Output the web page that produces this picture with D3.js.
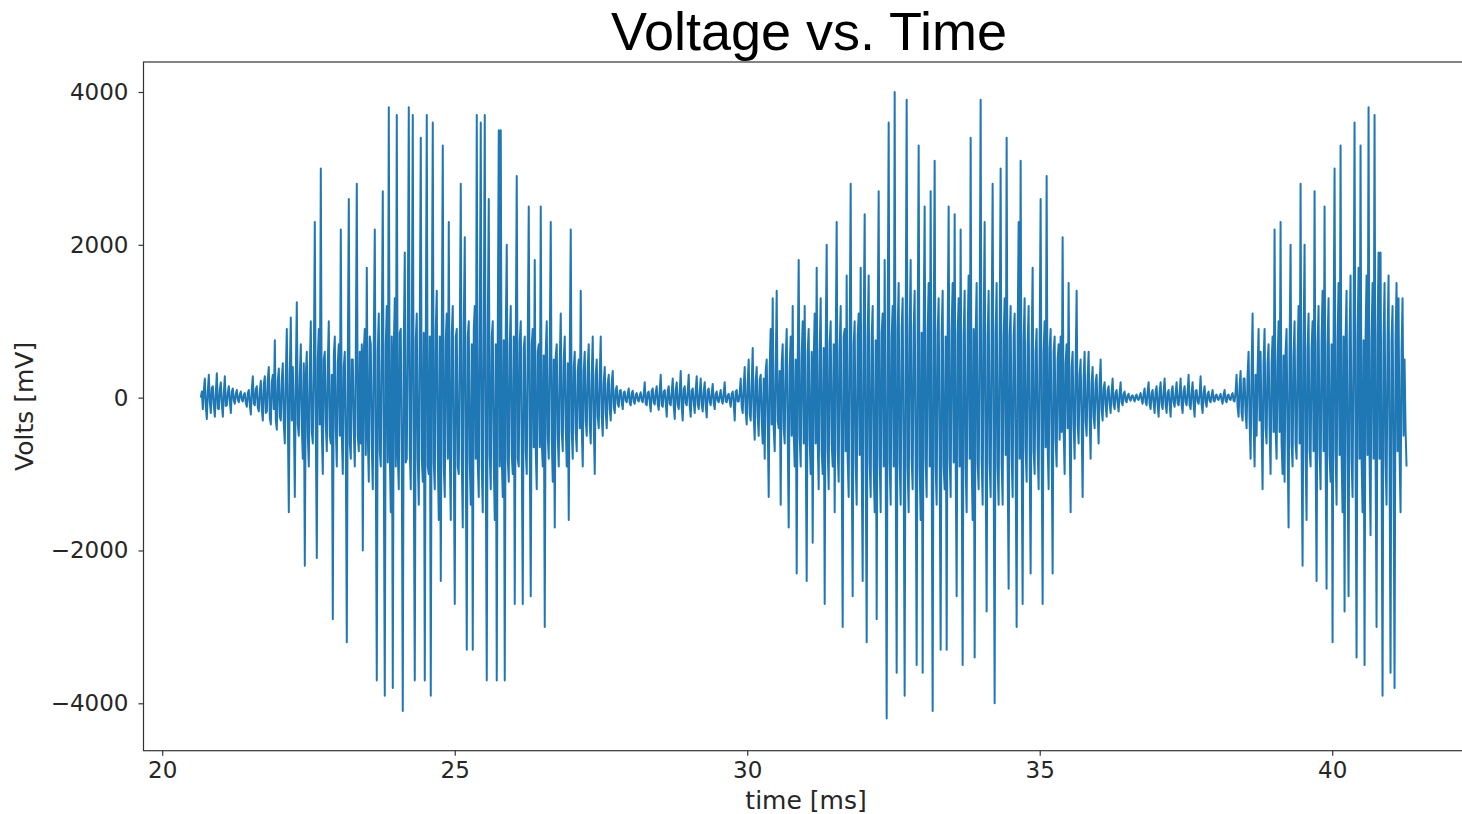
<!DOCTYPE html>
<html>
<head>
<meta charset="utf-8">
<script src="https://cdn.jsdelivr.net/npm/d3@7"></script>
<style>
  body { margin: 0; background: #fff; }
  svg { display: block; }
</style>
</head>
<body>
<div voltage-chart></div>
<script>
const dimensions = {
  width: 1462,
  height: 814,
};

const margin = { left: 143.5, top: 62, bottom: 750.7 };

const title = "Voltage vs. Time";
const xLabel = "time [ms]";
const yLabel = "Volts [mV]";
const xTicks = [20, 25, 30, 35, 40];
const yTicks = [-4000, -2000, 0, 2000, 4000];

// sampling of the recording
const t0 = 20.66;
const dt = 0.01709;

// first burst (about 20.7 - 27.8 ms)
const burstA = [
  0, 80, -150, 100, 250, -120, -280, 90, 300, -60, -200, 130, 150, -100, -250, 70, 320, -140, -150, 110,
  200, -90, -250, 60, 280, -110, -100, 70, 150, -50, -200, 80, 120, -40, -80, 50, 100, -30, -60, 40,
  80, -30, -50, 40, 60, -70, -120, 60, 100, -90, -220, 120, 280, -80, -100, 110, 150, -130, -180, 90,
  220, -150, -300, 180, 280, -200, -180, 250, 400, -260, -350, 200, 300, -150, 750, -300, -420, 220, 380, -250,
  -300, 250, 450, -350, -600, 300, 900, -250, -1500, 350, 1050, -300, 400, -200, -1300, 300, 1250, -350, -500, 280,
  700, -400, -800, 450, -2200, 300, 600, -500, -900, 400, 1000, -450, -600, 350, 2300, -400, -2100, 500, 900, -350,
  3000, -450, -1000, 500, 600, -350, -700, 450, 1000, -500, -600, 300, -2900, 550, 800, -400, -900, 450, 700, -500,
  2200, -500, -1000, 400, 600, -550, -3200, 450, 2600, -600, -800, 500, 500, -450, -900, 550, 2800, -500, -700, 600,
  -600, 700, -2000, 600, 900, -750, 1700, -500, -1100, 800, 700, -650, -1200, 700, 2200, -800, -3700, 600, 1100, -700,
  -900, 750, 2700, -800, -3900, 700, 1200, -850, 3800, -700, -1500, 800, -3800, 650, 1300, -900, 3700, -750, -1200, 850,
  900, -800, -4100, 700, 1900, -850, -800, 900, 3800, -700, -1200, 800, 3700, -900, -3700, 750, 1100, -800, -1400, 900,
  3400, -800, -1100, 850, -3700, 700, 3700, -900, -1000, 800, -3900, 750, 3600, -850, -1200, 900, 1400, -750, -1600, 800,
  -2400, 800, 3300, -900, -1300, 750, 1100, -800, 2300, -700, -1600, 850, 1200, -750, -2700, 800, 900, -900, -1000, 700,
  2800, -800, -1700, 900, 2100, -750, -3300, 800, 1000, -850, -1400, 700, -3300, 900, 1200, -800, 3700, -850, -1300, 800,
  3600, -900, -1500, 850, 3700, -800, -3700, 900, 2600, -750, -1200, 800, 1000, -850, -1600, 700, -3700, 800, 3500, -900,
  3500, -800, -1300, 750, -3700, 850, 2000, -800, -1100, 700, 1200, -750, -1000, 800, -2700, 700, 2900, -800, -900, 750,
  1000, -700, -2700, 650, 800, -700, -1000, 750, 2500, -600, -2600, 700, 900, -650, 1800, -700, -1200, 600, 700, -650,
  2500, -600, -900, 550, -3000, 600, 1000, -500, -800, 600, 2300, -550, -1100, 500, -1700, 550, 700, -500, -900, 450,
  1100, -450, -700, 500, 800, -400, -900, 450, -1600, 500, 2200, -450, -800, 400, 600, -450, -700, 350, 500, -400,
  1400, -400, -900, 350, 600, -300, -500, 400, 700, -350, -600, 300, 800, -350, -1000, 300, 500, -250, -400, 300,
  800, -250, -500, 200, 400, -200, -400, 180, 300, -150, -300, 200, 350, -120, -200, 100, 150, -80, -120, 90,
];

const quietA = [
  100, -60, -150, 70, 80, -40, -60, 50, 120, -70, -100, 60, 90, -50, -80, 40, 60, -30, -50, 30,
  70, -40, -60, 50, 200, -80, -100, 60, 80, -50, -180, 90, 120, -60, -90, 70, 150, -80, -160, 90,
  300, -100, -120, 80, 100, -60, -250, 90, 150, -80, -100, 70, 250, -110, -280, 100, 200, -90, -150, 80,
  350, -120, -300, 110, 150, -70, -100, 80, 300, -110, -250, 90, 120, -60, -200, 100, 280, -90, -150, 70,
  250, -90, -180, 80, 200, -100, -260, 90, 120, -50, -100, 60, 180, -70, -150, 50, 80, -40, -60, 30,
  100, -40, -80, 60, 200, -50, -60, 30, 50, -40, -120, 50, 80, -60, -300, 80, 100, -50, -50, 60,
];

// second burst (about 30 - 36 ms)
const burstB = [
  250, -120, -200, 150, 400, -180, -350, 200, 500, -220, -300, 180, 650, -250, -550, 220, 400, -250, -500, 230,
  300, -300, -600, 250, -800, 350, 500, -300, -1300, 400, 900, -350, 1300, -400, -700, 350, 1400, -300, -400, 350,
  -1400, 450, 700, -400, -600, 500, 900, -450, -1700, 400, 800, -500, 1200, -450, -900, 500, -2300, 450, 1800, -500,
  -900, 550, 1000, -600, 1200, -500, -2400, 600, 900, -550, -1000, 600, -1900, 500, 1100, -600, 1700, -550, -1200, 600,
  1300, -700, -1000, 650, -2700, 700, 2000, -650, -1200, 700, 1000, -600, -900, 700, -1500, 650, 2300, -700, -1100, 650,
  1200, -750, -3000, 800, 900, -700, 1600, -800, -1300, 750, 2800, -800, -2600, 700, 1000, -850, -1400, 800, 1100, -750,
  1700, -800, -2400, 850, 2400, -750, -3200, 800, 1600, -850, -1300, 800, 1200, -900, -1500, 750, -2900, 850, 2700, -800,
  -1500, 850, 1100, -900, 1800, -800, -4200, 900, 3600, -850, -1400, 800, 1200, -900, 4000, -800, -3600, 900, 1500, -850,
  -1400, 900, 1300, -850, -3900, 800, 3900, -900, -1500, 850, 1800, -800, -1200, 900, 1400, -850, -3500, 800, 3300, -900,
  -1600, 850, -3600, 900, 2500, -800, -1300, 850, 1500, -900, 2700, -850, -4100, 800, 3100, -900, -1400, 850, 1300, -800,
  -3300, 850, 1400, -900, -1200, 800, -3300, 850, 2500, -800, -1300, 900, 1500, -850, 2400, -800, -2600, 850, 1300, -900,
  2200, -850, -3500, 800, 1400, -900, -1500, 850, 1600, -800, 3400, -850, -1600, 900, -3400, 800, 1500, -850, -1200, 900,
  3900, -800, -1400, 850, 2300, -900, -2800, 800, 1400, -850, -1300, 900, 2800, -800, -4000, 850, 1500, -900, -1400, 800,
  3000, -850, -1400, 800, 1300, -750, 3400, -850, -2500, 800, 1200, -750, -1300, 800, 1100, -800, -3000, 750, 2300, -800,
  3100, -700, -2700, 750, 1300, -650, -1100, 700, 1200, -700, -2300, 650, 1700, -700, -1000, 600, 900, -650, -1200, 700,
  2600, -650, -2700, 600, 1000, -650, 2900, -600, -1200, 650, 900, -550, -2300, 600, 800, -550, -900, 500, 700, -550,
  800, -450, 2100, -400, -1000, 450, 700, -400, 1500, -450, -1500, 400, 600, -350, -800, 400, 1400, -350, -600, 300,
  500, -300, -1300, 250, 600, -300, -500, 250, 600, -250, -800, 200, 400, -250, -400, 200, 300, -200, -600, 180,
];

const quietB = [
  500, -150, -300, 120, 200, -100, -250, 90, 150, -80, -200, 70, 250, -90, -150, 60, 100, -70, -180, 60,
  200, -60, -100, 50, 80, -40, -60, 30, 50, -20, -40, 20, 30, -20, -50, 20, 40, -20, -30, 20,
  60, -30, -80, 50, 120, -60, -100, 70, 200, -80, -150, 60, 100, -70, -200, 80, 150, -90, -250, 80,
  200, -80, -150, 70, 250, -90, -200, 60, 100, -70, -250, 80, 150, -60, -120, 50, 200, -70, -100, 60,
  250, -90, -200, 80, 150, -60, -100, 70, 300, -100, -150, 60, 200, -80, -250, 90, 100, -50, -80, 40,
  280, -90, -200, 70, 150, -60, -120, 50, 80, -40, -60, 30, 100, -40, -50, 30, 40, -20, -30, 20,
  50, -30, -80, 40, 100, -40, -60, 30, 40, -20, -30, 30, 60, -40, -50, 80, 300, -120, -250, 150,
];

// third burst (about 38.7 - 41.3 ms)
const burstC = [
  350, -200, -300, 250, 250, -200, -400, 300, 600, -300, -800, 350, 1100, -300, -900, 300, -500, 350, 900, -300,
  600, -400, -1200, 450, 900, -400, -600, 450, 700, -400, -1000, 450, 800, -450, 2200, -400, -800, 450, 1000, -450,
  2300, -600, -1000, 550, -1100, 600, 900, -550, -1700, 600, 2000, -600, -900, 550, 1000, -600, -800, 550, 1200, -600,
  2800, -650, -2200, 700, 2000, -700, -1600, 650, 1100, -700, -900, 650, 1000, -700, 2700, -650, -2400, 700, 1200, -700,
  -1200, 750, 1400, -700, 2500, -750, -2500, 700, 1300, -750, -1100, 700, -3200, 750, 3000, -700, -1400, 750, 1500, -750,
  3300, -750, -1500, 800, -2800, 750, 1400, -800, -2600, 750, 1600, -800, -1300, 750, 3600, -800, -3400, 750, 1700, -800,
  3300, -800, -1500, 750, -3500, 800, 1600, -750, 3800, -800, -1800, 750, 1500, -800, 3700, -750, -3000, 800, 1900, -800,
  1900, -800, -3900, 750, 1500, -800, -1400, 750, 1600, -800, -3600, 750, 1200, -800, -3800, 750, 1500, -700, 1300, -700,
  -1500, 600, 1300, -500, 500, -400, -900,
];

const volts = [...burstA, ...quietA, ...burstB, ...quietB, ...burstC];
const series = volts.map((v, i) => ({ t: t0 + i * dt, v: v }));

function renderVoltageChart() {
  d3.select("[voltage-chart]").selectAll("*").remove();

  const svg = d3
    .select("[voltage-chart]")
    .append("svg")
    .attr("width", dimensions.width)
    .attr("height", dimensions.height);

  // 20 -> 162.3px, 30 -> 747.3px
  var x = d3
    .scaleLinear()
    .domain([19.68, 42.33])
    .range([margin.left, margin.left + (42.33 - 19.68) * 58.5]);

  var y = d3
    .scaleLinear()
    .domain([-4000, 4000])
    .range([703.3, 92]);

  // data line
  var line = d3
    .line()
    .x((d) => x(d.t))
    .y((d) => y(d.v));

  svg
    .append("path")
    .datum(series)
    .attr("d", line)
    .attr("fill", "none")
    .attr("stroke", "#1f77b4")
    .attr("stroke-width", 2)
    .attr("stroke-linejoin", "round");

  // frame
  const right = x.range()[1];
  svg
    .append("rect")
    .attr("x", margin.left)
    .attr("y", margin.top)
    .attr("width", right - margin.left)
    .attr("height", margin.bottom - margin.top)
    .attr("fill", "none")
    .attr("stroke", "#333")
    .attr("stroke-width", 1.2);

  // x axis
  const xAxis = svg
    .append("g")
    .attr("transform", `translate(0,${margin.bottom})`)
    .call(d3.axisBottom(x).tickValues(xTicks).tickSize(5).tickPadding(6).tickFormat(d3.format("d")));
  xAxis.select(".domain").remove();

  // y axis
  const yAxis = svg
    .append("g")
    .attr("transform", `translate(${margin.left},0)`)
    .call(d3.axisLeft(y).tickValues(yTicks).tickSize(5).tickPadding(10).tickFormat(d3.format("d")));
  yAxis.select(".domain").remove();

  svg.selectAll(".tick line").attr("stroke", "#333").attr("stroke-width", 1.2);
  svg
    .selectAll(".tick text")
    .attr("fill", "#262626")
    .style("font-family", "DejaVu Sans, sans-serif")
    .style("font-size", "23px");

  // labels
  svg
    .append("text")
    .attr("x", (margin.left + right) / 2)
    .attr("y", 809)
    .attr("text-anchor", "middle")
    .style("font-family", "DejaVu Sans, sans-serif")
    .style("font-size", "25px")
    .attr("fill", "#262626")
    .text(xLabel);

  svg
    .append("text")
    .attr("transform", `translate(33,${(margin.top + margin.bottom) / 2}) rotate(-90)`)
    .attr("text-anchor", "middle")
    .style("font-family", "DejaVu Sans, sans-serif")
    .style("font-size", "25px")
    .attr("fill", "#262626")
    .text(yLabel);

  svg
    .append("text")
    .attr("x", 809)
    .attr("y", 50)
    .attr("text-anchor", "middle")
    .style("font-family", "Liberation Sans, Arial, sans-serif")
    .style("font-size", "54px")
    .attr("fill", "#000")
    .text(title);
}

renderVoltageChart();
</script>
</body>
</html>
